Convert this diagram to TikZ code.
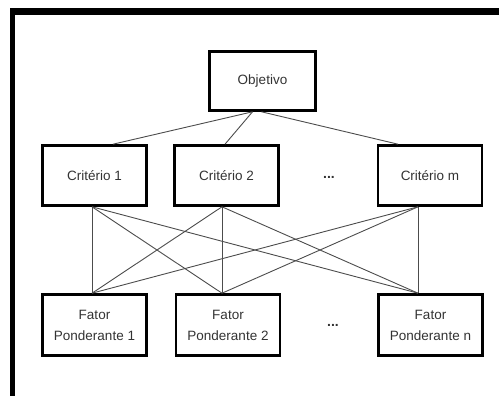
\documentclass[tikz,border=0pt]{standalone}
\usepackage{fontspec}
\setmainfont{Liberation Sans}
\begin{document}
\begin{tikzpicture}[x=1pt,y=-1pt]
          \tikzstyle{every node}=[draw,line width=2.6pt,shape=rectangle,text=black!80,font=\fontsize{13.5}{21}\selectfont,align=center];
          \tikzstyle{link}=[line width=0.9pt,black!70];
          \useasboundingbox (0,0) rectangle (499,396);
          % moldura
          \fill[black] (10,8) rectangle (499,15.5);
          \fill[black] (10,8) rectangle (14.5,396);
          %\node (name) at (x,y) [minimum width=w,minimum height=h] {text};
          \node (obj) at (262.5,81) [minimum width=106,minimum height=59] {Objetivo};
          \node (c1) at (94.5,175.5) [minimum width=104,minimum height=60] {Critério 1};
          \node (c2) at (226.5,175.5) [minimum width=104,minimum height=60] {Critério 2};
          \node (cm) at (430,175.5) [minimum width=104,minimum height=60] {Critério m};
          \node (f1) at (94.5,325) [minimum width=104,minimum height=61] {Fator\\Ponderante 1};
          \node (f2) at (228,325) [minimum width=104,minimum height=61] {Fator\\Ponderante 2};
          \node (fn) at (430.5,325) [minimum width=104,minimum height=61] {Fator\\Ponderante n};
          \node (d1) at (329,177) [draw=none,font=\fontsize{14}{16}\bfseries] {...};
          \node (d2) at (333,325) [draw=none,font=\fontsize{14}{16}\bfseries] {...};
          %\draw [link] ...
          \draw[link] ([xshift=-10pt]obj.south)--([xshift=18.5pt]c1.north);
          \draw[link] ([xshift=-10pt]obj.south)--([xshift=-1.5pt]c2.north);
          \draw[link] ([xshift=-1pt]obj.south)--([xshift=-32pt]cm.north);
          \draw[link] ([xshift=-2.5pt]c1.south)--([xshift=-2.5pt]f1.north);
          \draw[link] ([xshift=-2.5pt]c1.south)--([xshift=-6pt]f2.north);
          \draw[link] ([xshift=-2.5pt]c1.south)--([xshift=-12.5pt]fn.north);
          \draw[link] ([xshift=-4.5pt]c2.south)--([xshift=-2.5pt]f1.north);
          \draw[link] ([xshift=-4.5pt]c2.south)--([xshift=-6pt]f2.north);
          \draw[link] ([xshift=-4.5pt]c2.south)--([xshift=-12.5pt]fn.north);
          \draw[link] ([xshift=-12pt]cm.south)--([xshift=-2.5pt]f1.north);
          \draw[link] ([xshift=-12pt]cm.south)--([xshift=-6pt]f2.north);
          \draw[link] ([xshift=-12pt]cm.south)--([xshift=-12.5pt]fn.north);
      \end{tikzpicture}
\end{document}
